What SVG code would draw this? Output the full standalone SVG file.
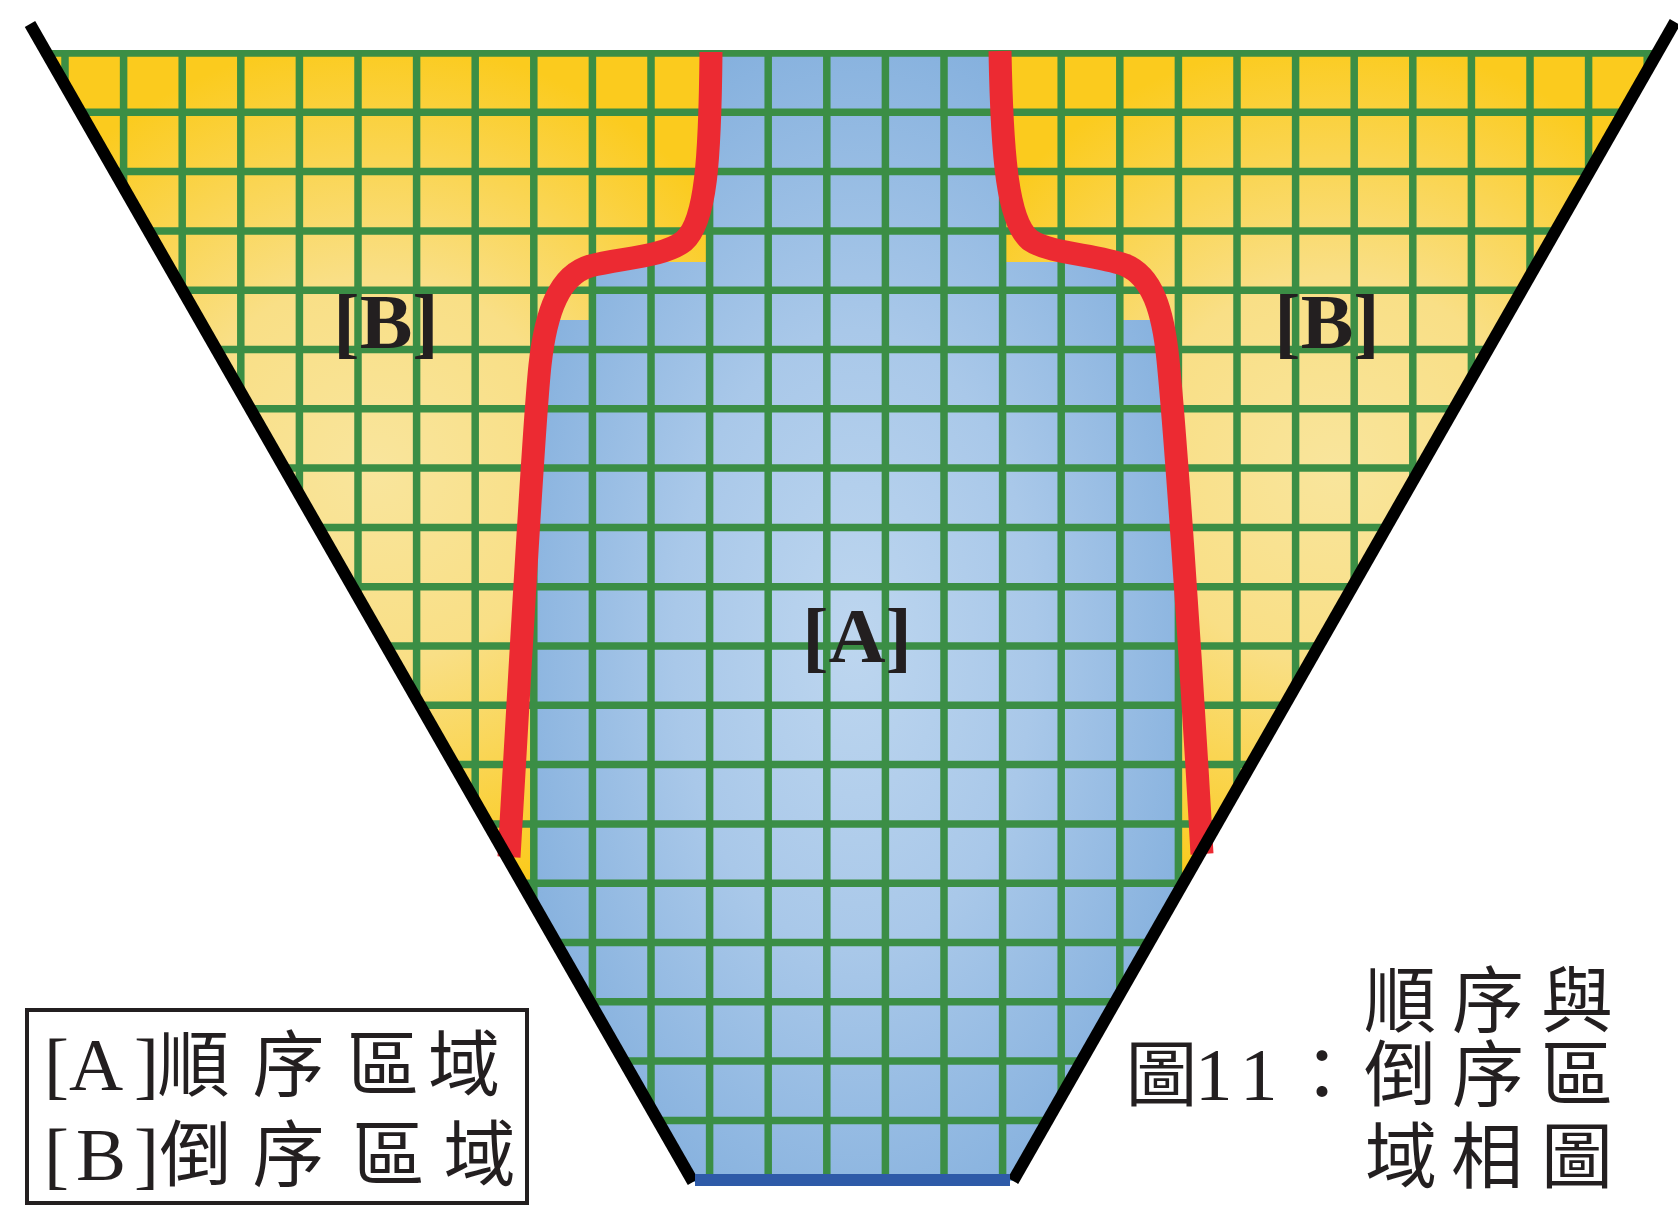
<svg xmlns="http://www.w3.org/2000/svg" width="1678" height="1206" viewBox="0 0 1678 1206">
  <style>
    .grid { fill: none; stroke: #3b8e45; stroke-width: 7.5; }
    .red { fill: none; stroke: #ec2a32; stroke-width: 23; stroke-linecap: butt; }
    .edge { fill: none; stroke: #000; stroke-width: 12; stroke-linecap: butt; }
    .lbl { font-family: "Liberation Serif", "Times New Roman", serif; font-weight: bold; font-size: 79px; fill: #231f20; }
    .lat { font-family: "Liberation Serif", "Times New Roman", serif; font-size: 75px; fill: #231f20; }
    .cjk { font-family: "Noto Sans CJK TC", "Noto Sans CJK SC", sans-serif; font-size: 72px; fill: #231f20; }
  </style>
  <defs>
    <clipPath id="trap">
      <polygon points="44.9,50 1659,50 1013,1181 693,1182"/>
    </clipPath>
    <radialGradient id="yelL" gradientUnits="userSpaceOnUse" cx="375" cy="470" r="430">
      <stop offset="0" stop-color="#f9e59c"/>
      <stop offset="0.45" stop-color="#f9df86"/>
      <stop offset="1" stop-color="#fbcb1e"/>
    </radialGradient>
    <radialGradient id="yelR" gradientUnits="userSpaceOnUse" cx="1335" cy="470" r="430">
      <stop offset="0" stop-color="#f9e59c"/>
      <stop offset="0.45" stop-color="#f9df86"/>
      <stop offset="1" stop-color="#fbcb1e"/>
    </radialGradient>
    <radialGradient id="blu" gradientUnits="userSpaceOnUse" cx="0" cy="0" r="1" gradientTransform="translate(855 640) scale(360 620)">
      <stop offset="0" stop-color="#bdd6ef"/>
      <stop offset="0.5" stop-color="#a9c8e9"/>
      <stop offset="1" stop-color="#86b1de"/>
    </radialGradient>
  </defs>

  <g id="field" clip-path="url(#trap)">
    <rect id="regionB-left-fill" x="0" y="40" width="853" height="1160" fill="url(#yelL)"/>
    <rect id="regionB-right-fill" x="853" y="40" width="825" height="1160" fill="url(#yelR)"/>
    <path id="regionA-fill" fill="url(#blu)" d="M710,45 L710,262 L592,262 L592,320 L541,320 L534,420 L534,1200 L1178,1200 L1178,420 L1166,320 L1119,320 L1119,262 L1002,262 L1002,45 Z"/>
    <path id="grid" class="grid" d="M65 40V1200 M123.6 40V1200 M182.2 40V1200 M240.8 40V1200 M299.4 40V1200 M358 40V1200 M416.6 40V1200 M475.2 40V1200 M533.8 40V1200 M592.4 40V1200 M651 40V1200 M709.6 40V1200 M768.2 40V1200 M826.8 40V1200 M885.4 40V1200 M944 40V1200 M1002.6 40V1200 M1061.2 40V1200 M1119.8 40V1200 M1178.4 40V1200 M1237 40V1200 M1295.6 40V1200 M1354.2 40V1200 M1412.8 40V1200 M1471.4 40V1200 M1530 40V1200 M1588.6 40V1200 M1647.2 40V1200 M0 53H1678 M0 112.3H1678 M0 171.6H1678 M0 230.9H1678 M0 290.2H1678 M0 349.5H1678 M0 408.8H1678 M0 468.1H1678 M0 527.4H1678 M0 586.7H1678 M0 646H1678 M0 705.3H1678 M0 764.6H1678 M0 823.9H1678 M0 883.2H1678 M0 942.5H1678 M0 1001.8H1678 M0 1061.1H1678 M0 1120.4H1678"/>
  </g>

  <g id="connectors">
    <path id="boundary-left" class="red" d="M711,52 C710,160 706,222 684,241 C664,257 620,258 590,266 C560,275 546,310 540,365 C533,430 522,640 509,857"/>
    <path id="boundary-right" class="red" d="M1000,51 C1002,160 1008,222 1030,240 C1050,254 1095,254 1125,265 C1152,276 1163,310 1168,360 C1175,430 1190,640 1202,854"/>
    <line id="edge-left" class="edge" x1="30" y1="24" x2="693" y2="1182"/>
    <line id="edge-right" class="edge" x1="1675" y1="22" x2="1013" y2="1181"/>
    <rect id="base" x="695" y="1174" width="315" height="12" fill="#2e5aa8"/>
  </g>

  <g id="label-B-left">
    <text class="lbl" x="386" y="348" text-anchor="middle">[B]</text>
  </g>
  <g id="label-B-right">
    <text class="lbl" x="1327" y="348" text-anchor="middle">[B]</text>
  </g>
  <g id="label-A">
    <text class="lbl" x="857" y="662" text-anchor="middle">[A]</text>
  </g>

  <g id="legend">
    <rect x="27" y="1010" width="500" height="193" fill="#fff" stroke="#231f20" stroke-width="4"/>
    <text y="1090"><tspan class="lat" x="44 69 134">[A]</tspan><tspan class="cjk" x="157.5 252.5 347 428">順序區域</tspan></text>
    <text y="1180"><tspan class="lat" x="44 76 134">[B]</tspan><tspan class="cjk" x="159.5 252.5 352.5 443.5">倒序區域</tspan></text>
  </g>

  <g id="caption">
    <text class="cjk" y="1026" x="1364 1452 1541">順序與</text>
    <text y="1100"><tspan class="cjk" x="1125.5">圖</tspan><tspan class="lat" x="1195 1240">11</tspan><tspan class="cjk" x="1286 1364 1452 1541">：倒序區</tspan></text>
    <text class="cjk" y="1182" x="1365 1451 1541">域相圖</text>
  </g>
</svg>
